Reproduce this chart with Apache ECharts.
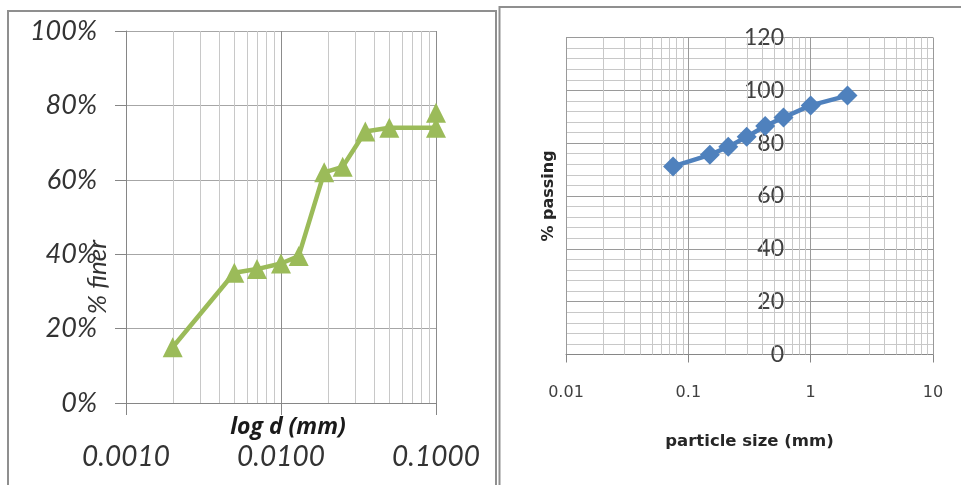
<!DOCTYPE html>
<html><head><meta charset="utf-8">
<script src="https://cdn.jsdelivr.net/npm/echarts@6/dist/echarts.min.js"></script>
<style>html,body{margin:0;padding:0;background:#fff}#c{width:961px;height:485px}</style>
</head><body><div id="c"></div>
<script>
// Left chart: hydrometer curve
const leftSize  = [0.002, 0.005, 0.007, 0.010, 0.013, 0.019, 0.025, 0.035, 0.050, 0.100, 0.100];
const leftFiner = [0.15, 0.35, 0.36, 0.375, 0.395, 0.62, 0.635, 0.73, 0.74, 0.74, 0.78];
const leftYTicks = [0, 0.2, 0.4, 0.6, 0.8, 1.0];
// Right chart: sieve curve
const rightSize    = [0.075, 0.15, 0.212, 0.3, 0.425, 0.6, 1.0, 2.0];
const rightPassing = [71.2, 75.6, 78.6, 82.4, 86.5, 89.7, 94.3, 98.0];
const rightYTicks = [0, 20, 40, 60, 80, 100, 120];

function minorLogTicks(min, max) {
  const out = [];
  for (let d = min; d < max * 0.999; d *= 10) {
    for (let k = 2; k <= 9; k++) out.push(+(d * k).toPrecision(6));
  }
  return out;
}
const leftMinor = minorLogTicks(0.001, 0.1);
const rightMinor = minorLogTicks(0.01, 10);

function minorGridSeries(xi, values, yMin, yMax) {
  return {
    type: 'custom', xAxisIndex: xi, yAxisIndex: xi, silent: true, z: 1,
    data: values.map(v => [v, yMin]),
    encode: {x: 0, y: 1},
    clip: false,
    renderItem: (params, api) => {
      const x = api.value(0);
      const p1 = api.coord([x, yMin]);
      const p2 = api.coord([x, yMax]);
      const px = Math.round(p1[0]) + 0.5;
      return {type: 'line', shape: {x1: px, y1: p1[1], x2: px, y2: p2[1]}, style: {stroke: '#c8c8c8', lineWidth: 1}};
    }
  };
}

const chart = echarts.init(document.getElementById('c'), null, {renderer: 'canvas'});
const axisGray = '#868686';
const option = {
  animation: false,
  backgroundColor: '#fff',
  graphic: [
    {type: 'rect', z: -10, shape: {x: 8, y: 11, width: 488, height: 500}, style: {fill: 'none', stroke: '#8f8f8f', lineWidth: 2}},
    {type: 'rect', z: -10, shape: {x: 499.5, y: 7, width: 480, height: 500}, style: {fill: 'none', stroke: '#8f8f8f', lineWidth: 2}}
  ],
  grid: [
    {left: 126, top: 31, width: 310, height: 372, containLabel: false, outerBoundsMode: 'none'},
    {left: 566, top: 37.5, width: 367, height: 317, containLabel: false, outerBoundsMode: 'none'}
  ],
  xAxis: [
    {
      type: 'log', gridIndex: 0, min: 0.001, max: 0.1, logBase: 10,
      axisLine: {show: true, lineStyle: {color: axisGray}},
      axisTick: {show: true, length: 12, lineStyle: {color: axisGray}},
      axisLabel: {formatter: v => Number(v).toFixed(4), fontFamily: 'Lato', fontStyle: 'italic', fontSize: 28, color: '#333', margin: 40},
      splitLine: {show: true, lineStyle: {color: '#8c8c8c'}},
      name: 'log d (mm)', nameLocation: 'middle', nameGap: 13, nameMoveOverlap: false,
      nameTextStyle: {fontFamily: 'Open Sans', fontStyle: 'italic', fontWeight: 'bold', fontSize: 23, color: '#1a1a1a', padding: [0, 0, 0, 14]}
    },
    {
      type: 'log', gridIndex: 1, min: 0.01, max: 10, logBase: 10,
      axisLine: {show: true, lineStyle: {color: axisGray}},
      axisTick: {show: true, length: 8, lineStyle: {color: axisGray}},
      axisLabel: {fontFamily: 'DejaVu Sans', fontSize: 16, color: '#404040', margin: 30},
      splitLine: {show: true, lineStyle: {color: '#9a9a9a'}},
      name: 'particle size (mm)', nameLocation: 'middle', nameGap: 79, nameMoveOverlap: false,
      nameTextStyle: {fontFamily: 'DejaVu Sans', fontWeight: 'bold', fontSize: 16.5, color: '#262626'}
    }
  ],
  yAxis: [
    {
      type: 'value', gridIndex: 0, min: leftYTicks[0], max: leftYTicks[leftYTicks.length - 1], interval: 0.2,
      axisLine: {show: true, lineStyle: {color: axisGray}},
      axisTick: {show: true, length: 11, lineStyle: {color: axisGray}},
      axisLabel: {formatter: v => Math.round(v * 100) + '%', fontFamily: 'Lato', fontStyle: 'italic', fontSize: 27, color: '#333', margin: 29},
      splitLine: {show: true, lineStyle: {color: '#a6a6a6'}},
      name: '% finer', nameLocation: 'middle', nameGap: 15, nameMoveOverlap: false,
      nameTextStyle: {fontFamily: 'Lato', fontStyle: 'italic', fontSize: 26, color: '#333', padding: [0, 120, 0, 0]}
    },
    {
      type: 'value', gridIndex: 1, min: rightYTicks[0], max: rightYTicks[rightYTicks.length - 1], interval: 20,
      offset: -226,
      axisLine: {show: false}, axisTick: {show: false},
      minorTick: {show: false, splitNumber: 5},
      minorSplitLine: {show: true, lineStyle: {color: '#c8c8c8'}},
      axisLabel: {fontFamily: 'Lato', fontSize: 23, color: '#404040', margin: 8},
      splitLine: {show: true, lineStyle: {color: '#9a9a9a'}},
      name: '% passing', nameLocation: 'middle', nameGap: 235, nameMoveOverlap: false,
      nameTextStyle: {fontFamily: 'DejaVu Sans', fontWeight: 'bold', fontSize: 16, color: '#262626'}
    }
  ],
  series: [
    minorGridSeries(0, leftMinor, 0, 1),
    minorGridSeries(1, rightMinor, 0, 120),
    {
      type: 'line', xAxisIndex: 0, yAxisIndex: 0, z: 5,
      data: leftSize.map((s, i) => [s, leftFiner[i]]),
      symbol: 'triangle', symbolSize: 20,
      itemStyle: {color: '#9BBB59'},
      lineStyle: {color: '#9BBB59', width: 4.5},
      clip: false
    },
    {
      type: 'line', xAxisIndex: 1, yAxisIndex: 1, z: 5,
      data: rightSize.map((s, i) => [s, rightPassing[i]]),
      symbol: 'diamond', symbolSize: 20,
      itemStyle: {color: '#4F81BD'},
      lineStyle: {color: '#4F81BD', width: 4.5},
      clip: false
    }
  ]
};
chart.setOption(option);
</script>
</body></html>
